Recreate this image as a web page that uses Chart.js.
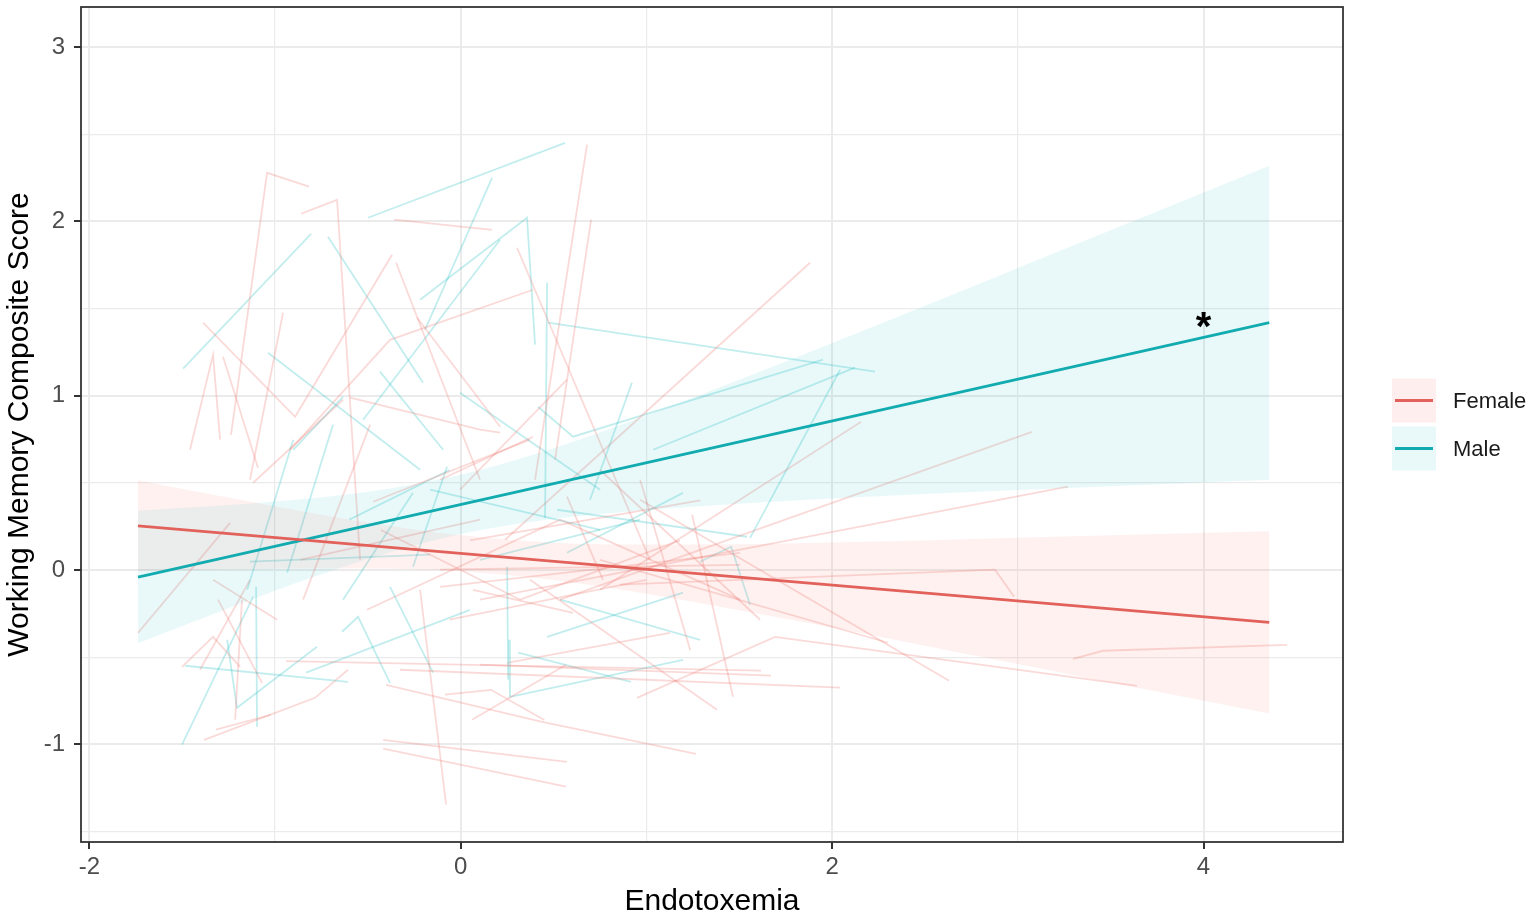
<!DOCTYPE html>
<html><head><meta charset="utf-8">
<script src="https://cdn.jsdelivr.net/npm/chart.js@4.4.1/dist/chart.umd.min.js"></script>
<style>html,body{margin:0;padding:0;background:#fff;}#wrap{width:1535px;height:922px;position:relative;}</style>
</head><body><div id="wrap"><canvas id="c"></canvas></div>
<script>
// ---- tick values ----
const xTicks = [-2, -1, 0, 1, 2, 3, 4];
const xLabelTicks = [-2, 0, 2, 4];
const yTicks = [-1.5, -1, -0.5, 0, 0.5, 1, 1.5, 2, 2.5, 3];
const yLabelTicks = [-1, 0, 1, 2, 3];
const groups = ['Female', 'Male'];
const xTitle = 'Endotoxemia';
const yTitle = 'Working Memory Composite Score';

// ---- fitted regression lines (endpoints) ----
const femaleFit = [[-1.738, 0.254], [4.354, -0.300]];
const maleFit = [[-1.738, -0.040], [4.354, 1.419]];

// ---- confidence bands ----
const bandX = [-1.738, -1, -0.5, 0, 0.5, 1, 1.5, 2, 2.5, 3, 3.5, 4.354];
const femaleLower = [-0.006, 0.008, 0.009, -0.007, -0.057, -0.136, -0.230, -0.330, -0.434, -0.539, -0.645, -0.823];
const femaleUpper = [0.514, 0.366, 0.273, 0.199, 0.157, 0.146, 0.148, 0.158, 0.170, 0.185, 0.199, 0.223];
const maleLower = [-0.420, -0.119, 0.063, 0.207, 0.293, 0.345, 0.381, 0.410, 0.436, 0.459, 0.481, 0.518];
const maleUpper = [0.340, 0.393, 0.449, 0.547, 0.699, 0.887, 1.091, 1.302, 1.516, 1.733, 1.949, 2.320];

// ---- individual trajectories ----
const femaleSubjects = [
  [[-1.237,0.776],[-1.043,2.279],[-0.817,2.199]],
  [[-0.860,2.044],[-0.666,2.124],[-0.542,0.059]],
  [[-0.359,2.010],[0.169,1.952]],
  [[-1.388,1.419],[-0.892,0.879],[-0.370,1.809]],
  [[-0.348,1.763],[0.104,0.518]],
  [[-1.458,0.690],[-1.334,1.235],[-1.296,0.748]],
  [[-1.280,1.224],[-1.092,0.587]],
  [[-1.135,0.518],[-0.957,1.476]],
  [[-0.596,0.989],[0.104,0.805],[0.212,0.788]],
  [[-0.919,0.690],[-0.381,1.321],[0.389,1.608]],
  [[-0.235,1.447],[0.212,0.822]],
  [[0.400,0.518],[0.680,2.440]],
  [[0.508,0.633],[0.702,2.010]],
  [[0.303,1.849],[1.019,0.059]],
  [[0.239,0.174],[1.881,1.763]],
  [[0.535,-0.170],[3.076,0.793]],
  [[0.750,-0.113],[2.156,0.851]],
  [[0.104,-0.170],[3.270,0.478]],
  [[0.858,-0.084],[2.877,0.002],[2.980,-0.153]],
  [[3.297,-0.509],[3.459,-0.463],[4.450,-0.429]],
  [[0.966,0.403],[2.630,-0.635]],
  [[0.949,-0.733],[1.693,-0.383],[3.642,-0.664]],
  [[0.750,0.059],[2.301,-0.417]],
  [[0.104,-0.543],[1.671,-0.606]],
  [[-0.327,-0.572],[2.043,-0.675]],
  [[-0.418,-0.974],[0.572,-1.100]],
  [[-0.418,-1.025],[0.567,-1.243]],
  [[-0.402,-0.658],[0.432,-0.870],[1.267,-1.054]],
  [[-0.085,-0.715],[0.163,-0.687],[0.450,-0.860]],
  [[0.061,-0.859],[0.567,-0.543]],
  [[0.373,-0.056],[1.380,-0.801]],
  [[-0.219,-0.113],[-0.079,-1.346]],
  [[-1.382,-0.974],[-0.785,-0.733],[-0.607,-0.572]],
  [[-1.318,-0.916],[-1.022,-0.830]],
  [[-1.215,-0.859],[-1.178,-0.170]],
  [[-0.941,-0.522],[1.617,-0.577]],
  [[1.246,0.317],[1.466,-0.727]],
  [[-0.849,-0.170],[-0.488,0.834]],
  [[-1.404,-0.572],[-1.135,-0.056]],
  [[-1.118,0.501],[-0.634,0.977]],
  [[-1.738,-0.360],[-1.242,0.271]],
  [[-0.472,0.392],[0.373,0.748]],
  [[-0.505,-0.228],[0.535,0.289]],
  [[-1.501,-0.555],[-1.334,-0.383],[-1.188,-0.555]],
  [[-1.307,-0.170],[-1.070,-0.647]],
  [[-1.334,-0.056],[-0.989,-0.285]],
  [[-0.111,0.518],[0.389,0.765]],
  [[-0.004,0.461],[0.572,1.092]],
  [[0.572,0.421],[0.766,-0.056]],
  [[-0.111,0.002],[1.504,0.030]],
  [[-0.111,-0.096],[1.504,0.099]],
  [[0.066,-0.113],[0.605,-0.245]],
  [[0.249,-0.532],[1.127,-0.360]],
  [[0.535,0.289],[1.504,-0.170]],
  [[0.050,0.170],[1.290,0.400]],
  [[0.750,0.574],[1.612,-0.285]],
  [[0.320,-0.170],[1.180,0.170]],
  [[-0.060,-0.285],[1.000,-0.056]],
  [[-0.430,0.230],[0.320,-0.170]],
  [[0.966,0.518],[1.236,-0.460]],
  [[-0.865,0.059],[0.104,0.289]]
];
const maleSubjects = [
  [[-0.499,2.021],[0.562,2.451]],
  [[-1.495,1.155],[-0.806,1.929]],
  [[-0.715,1.912],[-0.203,1.075]],
  [[-0.192,1.379],[0.169,2.251]],
  [[-0.526,0.862],[0.212,1.895]],
  [[-1.038,1.247],[-0.219,0.575]],
  [[-0.435,1.138],[-0.095,0.690]],
  [[-0.219,1.551],[0.357,2.021],[0.400,1.293]],
  [[0.454,0.300],[0.465,1.649]],
  [[0.470,1.419],[2.231,1.138]],
  [[0.416,0.937],[0.605,0.765],[1.951,1.207]],
  [[1.036,0.690],[2.123,1.161]],
  [[1.558,0.185],[2.043,1.149]],
  [[0.696,0.403],[0.922,1.075]],
  [[-1.501,-1.002],[-1.118,-0.153]],
  [[-1.102,-0.096],[-1.097,-0.899]],
  [[-1.485,-0.549],[-0.607,-0.641]],
  [[-1.258,-0.400],[-1.205,-0.790],[-0.774,-0.440]],
  [[0.260,-0.400],[0.265,-0.727],[1.197,-0.515]],
  [[0.309,-0.474],[0.917,-0.641]],
  [[1.289,0.048],[1.456,0.134],[1.558,-0.199]],
  [[0.572,0.099],[1.197,0.443]],
  [[-0.004,1.017],[0.750,0.461]],
  [[0.250,0.019],[0.255,-0.628]],
  [[-0.902,0.690],[-0.634,0.994]],
  [[-0.935,-0.015],[-0.688,0.834]],
  [[-0.833,-0.588],[0.050,-0.228]],
  [[0.465,-0.383],[1.197,-0.130]],
  [[-1.150,-0.113],[-0.902,0.748]],
  [[-0.639,-0.354],[-0.553,-0.268],[-0.381,-0.647]],
  [[-0.634,-0.170],[-0.257,0.444]],
  [[-1.135,0.048],[-0.165,0.088]],
  [[-0.257,0.019],[-0.074,0.593]],
  [[-0.381,-0.096],[-0.149,-0.588]],
  [[0.519,0.346],[1.542,0.191]],
  [[-0.165,0.461],[0.750,0.230]],
  [[0.104,0.059],[0.966,0.289]],
  [[-0.600,0.289],[-0.060,0.574]],
  [[0.535,-0.170],[1.289,-0.400]]
];

// ---- annotation ----
const starText = '*';
const starX = 4;
const starY = 1.32;

// ---- styling ----
const FONT = '"Liberation Sans", Arial, Helvetica, sans-serif';
const colFemale = '#E2615A';
const colMale = '#12ABAF';
const spagFemale = 'rgba(235,120,112,0.27)';
const spagMale = 'rgba(0,180,186,0.24)';
const bandFemale = 'rgba(248,118,109,0.10)';
const bandMale = 'rgba(0,191,196,0.085)';
const keyFemale = 'rgb(254,239,238)';
const keyMale = 'rgb(233,248,249)';

const toPts = arr => arr.map(p => ({x: p[0], y: p[1]}));
const bandPts = ys => bandX.map((x, i) => ({x: x, y: ys[i]}));

const datasets = [
  {label: 'Female fit', data: toPts(femaleFit), borderColor: colFemale, borderWidth: 2.8, order: 0},
  {label: 'Male fit', data: toPts(maleFit), borderColor: colMale, borderWidth: 2.8, order: 0},
  {label: 'fl', data: bandPts(femaleLower), borderWidth: 0, borderColor: 'rgba(0,0,0,0)', fill: false, order: 1, cubicInterpolationMode: 'monotone'},
  {label: 'fu', data: bandPts(femaleUpper), borderWidth: 0, borderColor: 'rgba(0,0,0,0)', fill: {target: 2}, backgroundColor: bandFemale, order: 1, cubicInterpolationMode: 'monotone'},
  {label: 'ml', data: bandPts(maleLower), borderWidth: 0, borderColor: 'rgba(0,0,0,0)', fill: false, order: 1, cubicInterpolationMode: 'monotone'},
  {label: 'mu', data: bandPts(maleUpper), borderWidth: 0, borderColor: 'rgba(0,0,0,0)', fill: {target: 4}, backgroundColor: bandMale, order: 1, cubicInterpolationMode: 'monotone'}
];
femaleSubjects.forEach((s, i) => datasets.push({label: 'F' + i, data: toPts(s), borderColor: spagFemale, borderWidth: 1.8, order: 2}));
maleSubjects.forEach((s, i) => datasets.push({label: 'M' + i, data: toPts(s), borderColor: spagMale, borderWidth: 1.8, order: 2}));
datasets.forEach(d => { d.showLine = true; d.pointRadius = 0; d.pointHoverRadius = 0; if (d.fill === undefined) d.fill = false; });

const decor = {
  id: 'decor',
  afterDatasetsDraw(chart) {
    const {ctx, scales} = chart;
    ctx.save();
    ctx.fillStyle = '#000';
    ctx.font = 'bold 40px ' + FONT;
    ctx.textAlign = 'center';
    ctx.textBaseline = 'alphabetic';
    ctx.fillText(starText, scales.x.getPixelForValue(starX), scales.y.getPixelForValue(starY));
    ctx.restore();
  },
  afterDraw(chart) {
    const {ctx, chartArea: a} = chart;
    ctx.save();
    ctx.strokeStyle = '#333333';
    ctx.lineWidth = 1.8;
    ctx.strokeRect(a.left, a.top, a.right - a.left, a.bottom - a.top);
    // legend
    const mid = (a.top + a.bottom) / 2;
    const bx = a.right + 49, size = 44;
    const entries = [[groups[0], keyFemale, colFemale, mid - 46], [groups[1], keyMale, colMale, mid + 2]];
    entries.forEach(([name, bg, lc, top]) => {
      ctx.fillStyle = bg;
      ctx.fillRect(bx, top, size, size);
      ctx.strokeStyle = lc;
      ctx.lineWidth = 3;
      ctx.beginPath();
      ctx.moveTo(bx + 3, top + size / 2);
      ctx.lineTo(bx + size - 3, top + size / 2);
      ctx.stroke();
      ctx.fillStyle = '#1A1A1A';
      ctx.font = '22px ' + FONT;
      ctx.textAlign = 'left';
      ctx.textBaseline = 'middle';
      ctx.fillText(name, bx + size + 17, top + size / 2 + 1);
    });
    ctx.restore();
  }
};

const isIn = (arr, v) => arr.some(t => Math.abs(t - v) < 1e-9);

new Chart(document.getElementById('c'), {
  type: 'scatter',
  data: {datasets},
  plugins: [decor],
  options: {
    responsive: true,
    maintainAspectRatio: false,
    animation: false,
    events: [],
    layout: {padding: {top: 7, right: 192, left: 0, bottom: 0}},
    plugins: {legend: {display: false}, tooltip: {enabled: false}},
    elements: {line: {tension: 0}},
    scales: {
      x: {
        type: 'linear', min: -2.045, max: 4.751,
        afterBuildTicks: s => { s.ticks = xTicks.map(v => ({value: v})); },
        afterFit: s => { s.height = 80; s.paddingLeft = 0; s.paddingRight = 0; },
        border: {display: false},
        grid: {
          color: '#EBEBEB',
          lineWidth: c => (c.tick && isIn(xLabelTicks, c.tick.value)) ? 2 : 1.2,
          tickLength: 7, tickWidth: 2,
          tickColor: c => (c.tick && isIn(xLabelTicks, c.tick.value)) ? '#333333' : 'rgba(0,0,0,0)'
        },
        ticks: {
          autoSkip: false, maxRotation: 0, padding: 4, color: '#4D4D4D',
          font: {family: FONT, size: 24},
          callback: v => isIn(xLabelTicks, v) ? String(v) : ''
        },
        title: {display: true, text: xTitle, color: '#000', font: {family: FONT, size: 30}, padding: {top: 2, bottom: 2}}
      },
      y: {
        type: 'linear', min: -1.56, max: 3.23,
        afterBuildTicks: s => { s.ticks = yTicks.map(v => ({value: v})); },
        afterFit: s => { s.width = 81; s.paddingTop = 0; s.paddingBottom = 0; },
        border: {display: false},
        grid: {
          color: '#EBEBEB',
          lineWidth: c => (c.tick && isIn(yLabelTicks, c.tick.value)) ? 2 : 1.2,
          tickLength: 7, tickWidth: 2,
          tickColor: c => (c.tick && isIn(yLabelTicks, c.tick.value)) ? '#333333' : 'rgba(0,0,0,0)'
        },
        ticks: {
          autoSkip: false, padding: 9, color: '#4D4D4D',
          font: {family: FONT, size: 24},
          callback: v => isIn(yLabelTicks, v) ? String(v) : ''
        },
        title: {display: true, text: yTitle, color: '#000', font: {family: FONT, size: 30}, padding: {top: 2, bottom: 2}}
      }
    }
  }
});
</script>
</body></html>
